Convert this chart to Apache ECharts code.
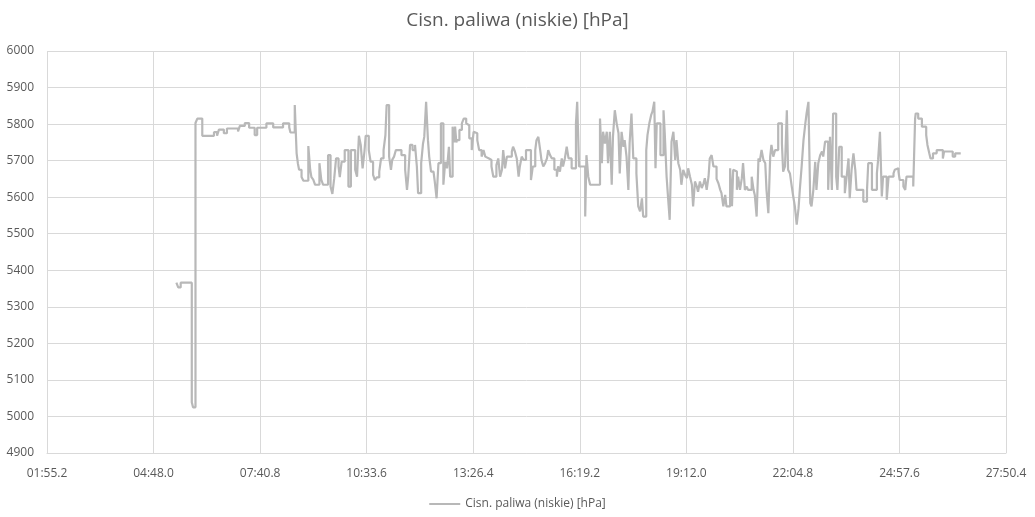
<!DOCTYPE html>
<html>
<head>
<meta charset="utf-8">
<script src="https://cdn.jsdelivr.net/npm/echarts@6/dist/echarts.min.js"></script>
<style>
html,body{margin:0;padding:0;background:#fff;}
#chart{width:1035px;height:517px;}
</style>
</head>
<body>
<div id="chart"></div>
<script>
// Time in seconds since start of recording (axis labels shown as mm:ss.s)
const times = [
325,328,332,350,352,356,359,367,386,391,394,402,407,425,428,436,443,452,456,
471,482,498,508,510,517,520,522,524,528,531,539,542,544,547,550,557,560,563,
571,575,578,581,584,588,590,593,598,604,608,615,
618,621,624,627,630,632,637,640,644,647,650,654,657,661,664,666,670,673,675,
678,681,690,696,699,701,704,708,712,715,717,722,725,727,730,733,735,738,742,
744,747,750,754,758,761,764,767,769,773,776,777,779,780,784,788,791,795,797,
800,804,807,810,813,816,820,823,826,828,832,836,839,844,847,850,853,855,858,
861,869,871,874,877,880,882,885,888,892,900,903,907,909,912,915,917,920,923,
926,928,931,934,938,942,944,947,950,952,955,958,961,966,973,975,978,988,990,
993,996,1012,1015,1017,1020,1023,1025,1028,1031,1033,1036,1039,1042,1044,1047,
1050,1052,1055,1058,1060,1063,1066,1071,1074,1077,1080,1082,1087,1089,1092,
1095,1097,1100,1102,1104,1110,1115,1117,1120,1123,1125,1128,1131,1134,1136,
1139,1142,1144,1147,1150,1153,1155,1158,1161,1163,1166,1169,1171,1174,1177,
1180,1182,1185,1188,1190,1193,1196,1201,1204,1207,1209,1212,1215,1217,1223,
1226,1228,1231,1234,1236,1239,1242,1244,1247,1250,1252,1258,1261,1263,1266,
1269,1271,1274,1277,1280,1282,1285,1288,1290,1293,1296,1301,1307,1309,1312,
1315,1317,1320,1323,1325,1328,1331,1334,1336,1339,1342,1345,1347,1350,1353,
1355,1358,1361,1363,1366,1369,1372,1374,1377,1382,1385,1388,1390,1395,1397,
1400,1404,1409,1412,1415,1417,1420,1423,1426,1428,1439,1445,1447,1453,1461,
1463,1466,1469,1471,1477,1480,1488,1490,1493,1496,1498,1504,1507,1509,1520,
1523,1524,1528,1534,1541,1543,1546,1548,1552,1558,1568,1570,1577,1580,1584,
1588,1597
];
const pressure = [
5366,5353,5366,5039,5025,5803,5815,5768,5778,5768,5785,5775,5788,5780,5795,5803,5790,5770,5790,
5802,5791,5802,5791,5777,5852,5720,5693,5675,5655,5645,5740,5675,5655,5648,5634,5693,5648,5634,
5715,5629,5609,5652,5706,5684,5655,5697,5729,5629,5729,5675,
5656,5768,5743,5679,5725,5768,5729,5697,5661,5647,5654,5670,5706,5729,5770,5852,5711,5675,5702,
5711,5729,5715,5675,5620,5656,5743,5729,5743,5684,5611,5693,5747,5765,5861,5756,5711,5670,5665,
5643,5597,5693,5802,5634,5697,5679,5738,5656,5793,5750,5793,5750,5756,5784,5802,5815,5802,5797,
5761,5729,5779,5775,5756,5729,5711,5729,5711,5706,5702,5684,5656,5688,5706,5656,5675,5729,5679,
5711,5725,5738,5725,5706,5656,5684,5711,5702,5729,5647,5684,5729,5756,5765,5729,5702,5684,5693,
5706,5729,5715,5706,5675,5656,5684,5670,5706,5684,5706,5738,5706,5679,5802,5861,5684,5547,5715,
5656,5634,5815,5693,5779,5747,5779,5693,5779,5634,5765,5838,5802,5775,5665,5779,
5738,5756,5711,5620,5747,5829,5706,5665,5575,5561,5597,5547,5729,5770,5802,
5825,5834,5861,5679,5802,5715,5838,5775,5656,5584,5538,5752,5779,5702,5756,
5693,5675,5634,5675,5661,5652,5679,5656,5634,5575,5643,5629,5615,5643,5625,
5638,5652,5620,5656,5706,5715,5684,5650,5638,5620,5611,5575,5606,5575,5679,
5575,5675,5670,5620,5656,5620,5652,5693,5620,5629,5620,5656,5620,5606,5547,
5706,5697,5729,5702,5693,5620,5556,5711,5743,5711,5729,5802,5747,5670,5684,
5838,5675,5665,5629,5606,5575,5525,5570,5620,5684,5756,5802,5829,5861,5584,
5575,5620,5697,5620,5693,5715,5725,5711,5752,5620,5765,5620,5829,5656,5620,
5738,5656,5611,5656,5706,5597,5675,5720,5675,5620,5588,5620,5693,5620,5665,
5702,5779,5602,5656,5593,5656,5665,5675,5679,5670,5647,5629,5620,5656,5629,
5815,5829,5815,5793,5770,5743,5720,5706,5720,5729,5706,5725,5729,5725,5711,
5720,5720
];
const seriesName = 'Cisn. paliwa (niskie) [hPa]';
const xMin = 115.2, xMax = 1670.4, xStep = 172.8;
const yMin = 4900, yMax = 6000, yStep = 100;

const data = times.map((t, i) => [t, pressure[i]]);

function fmtTime(v) {
  const tenths = Math.round(v * 10);
  const m = Math.floor(tenths / 600);
  const s = (tenths - m * 600) / 10;
  const mm = String(m).padStart(2, '0');
  const ss = s.toFixed(1).padStart(4, '0');
  return mm + ':' + ss;
}

const chart = echarts.init(document.getElementById('chart'), null, {renderer: 'canvas'});
const font = '"Open Sans", "Noto Sans", sans-serif';
chart.setOption({
  animation: false,
  backgroundColor: '#ffffff',
  title: {
    text: seriesName,
    left: 'center',
    top: 6,
    textStyle: {fontFamily: font, fontSize: 19, fontWeight: 'normal', color: '#595959'}
  },
  legend: {
    bottom: 2,
    left: 'center',
    itemWidth: 31,
    itemHeight: 10,
    itemGap: 10,
    textStyle: {fontFamily: font, fontSize: 12, color: '#595959'},
    data: [{name: seriesName, icon: 'path://M0,4 L31,4 L31,6 L0,6 Z'}]
  },
  grid: {left: 47, right: 29, top: 51, bottom: 64, containLabel: false},
  xAxis: {
    type: 'value',
    min: xMin, max: xMax, interval: xStep,
    axisLine: {show: true, lineStyle: {color: '#D9D9D9', width: 1}},
    axisTick: {show: false},
    splitLine: {show: true, lineStyle: {color: '#D9D9D9', width: 1}},
    axisLabel: {
      fontFamily: font, fontSize: 12, color: '#595959', margin: 15,
      formatter: fmtTime, showMinLabel: true, showMaxLabel: true
    }
  },
  yAxis: {
    type: 'value',
    min: yMin, max: yMax, interval: yStep,
    axisLine: {show: false},
    axisTick: {show: false},
    splitLine: {show: true, lineStyle: {color: '#D9D9D9', width: 1}},
    axisLabel: {fontFamily: font, fontSize: 12, color: '#595959', margin: 13,
      formatter: v => String(v)}
  },
  series: [{
    name: seriesName,
    type: 'line',
    step: 'end',
    data: data,
    symbol: 'none',
    showSymbol: false,
    lineStyle: {color: '#B8B8B8', width: 2.2},
    itemStyle: {color: '#B8B8B8'}
  }]
});
</script>
</body>
</html>
